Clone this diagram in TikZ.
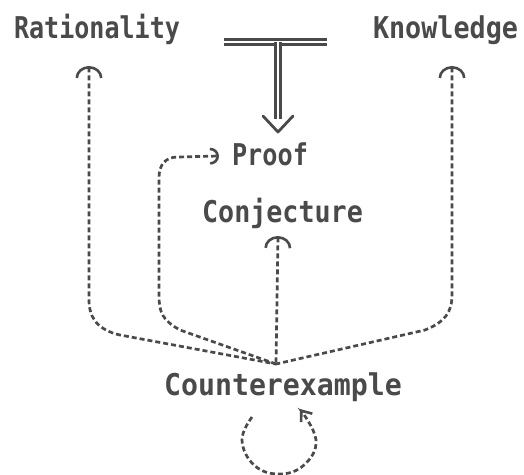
\documentclass[tikz,border=0pt]{standalone}
\usepackage{fontspec}
\newfontfamily\lbl{DejaVu Sans Mono}
\usetikzlibrary{arrows.meta,calc}
\definecolor{ink}{HTML}{4A4A4A}
\tikzset{
  ArcT/.tip={Arc Barb[width=27pt,length=12pt,line width=2.6pt]},
  ProofT/.tip={Arc Barb[width=17pt,length=9pt,line width=2.6pt]},
  LoopT/.tip={Straight Barb[width=14pt,length=9pt,line width=2.6pt]}
}
\begin{document}
\begin{tikzpicture}[x=1pt,y=-1pt,
  lbl/.style={anchor=base,inner sep=0pt,text=ink,font=\lbl\bfseries\fontsize{30}{34}\selectfont},
  dl/.style={draw=ink,line width=2.7pt,dash pattern=on 5pt off 3pt}]
\useasboundingbox (0,0) rectangle (524,474);
\node[lbl] (rat) at (97,38) {\scalebox{0.835}[1]{Rationality}};
\node[lbl] (know) at (445.5,38) {\scalebox{0.892}[1]{Knowledge}};
\node[lbl] (proof) at (270,165) {\scalebox{0.84}[1]{Proof}};
\node[lbl] (conj) at (282.5,222) {\scalebox{0.89}[1]{Conjecture}};
\node[lbl] (ce) at (283,395) {\scalebox{0.941}[1]{Counterexample}};
\coordinate (hub) at ($(ce.base)+(-7,-31)$);
% T bar with double arrow
\coordinate (tl) at (224,42);
\coordinate (tr) at (327,42);
\coordinate (tm) at (278,42);
\draw[ink,line width=2.4pt,double,double distance=2.6pt] (tl) -- (tr);
\draw[ink,line width=2.4pt,double,double distance=2.6pt] (tm) -- ($(proof.base)+(8,-46)$);
\draw[ink,line width=2.8pt,line cap=round,line join=round]
  ($(proof.base)+(-7,-49)$) -- ($(proof.base)+(8,-33)$) -- ($(proof.base)+(23,-49)$);
% dashed connectors
\draw[dl,ArcT-] ($(rat.base)+(-8,28)$) -- (89,300) .. controls (89,318) and (98,330) .. (120,335) -- (hub);
\draw[dl,ArcT-] ($(know.base)+(6.5,28)$) -- (452,295) .. controls (452,312) and (445,322) .. (425,330) -- (hub);
\draw[dl,ArcT-] ($(conj.base)+(-4.5,14)$) -- (hub);
\draw[dl,-ProofT] (hub) -- (180,330) .. controls (162,320) and (159,312) .. (159,295) -- (159,178) .. controls (159,165) and (165,157) .. (178,157) -- ($(proof.base)+(-51,-9)$);
% self loop
\draw[dl,-LoopT] plot[smooth,tension=0.7] coordinates {($(ce.base)+(-31,22)$) (242,440) (254,465) (279,474) (304,465) (316,440) ($(ce.base)+(17,14)$)};
\end{tikzpicture}
\end{document}
